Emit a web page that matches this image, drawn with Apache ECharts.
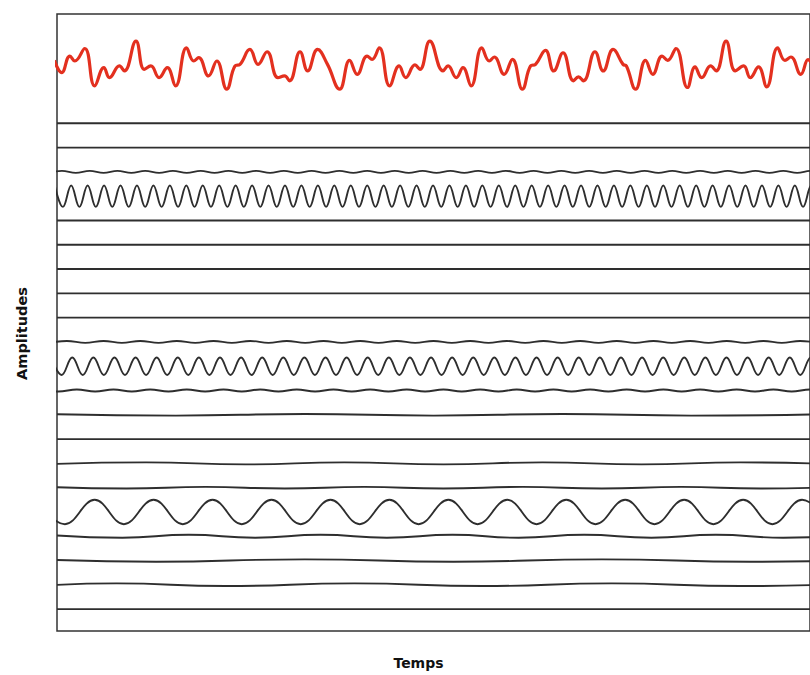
<!DOCTYPE html>
<html><head><meta charset="utf-8">
<script src="https://cdn.jsdelivr.net/npm/echarts@6/dist/echarts.min.js"></script>
<style>html,body{margin:0;padding:0;background:#fff}#c{width:810px;height:675px}</style>
</head><body><div id="c"></div>
<script>
// ---- composite signal (red): local extrema ----
const redT = [-2.7, 4.7, 13, 18, 28, 38, 47.3, 53, 63, 68, 79.7, 88, 94.7, 103, 111.3, 119.7, 130.7, 138, 143, 153, 161.3, 171.3, 179.7, 184.7, 194.7, 203, 212, 223, 229.7, 234.7, 245.3, 253, 263, 273, 285.3, 295.3, 303, 313, 318, 325.3, 335.7, 345.3, 352, 361.3, 366.3, 376.3, 389.7, 394.7, 403, 409.7, 418, 428.7, 436.3, 441.3, 451.3, 459.7, 469.7, 478, 483, 493, 501.3, 510.7, 521.3, 526.3, 531.3, 543, 551.3, 561.3, 571.3, 574.7, 584, 594, 601.3, 610.7, 616.3, 624.7, 636.3, 644, 650.7, 659.7, 665.3, 675.3, 684.7, 693, 699.7, 708, 716.3, 727.3, 734.7, 740.7, 750.7, 758, 766];
const redV = [4.8, -7.5, 9.2, 4.2, 16.8, -20.8, -2.5, -12.5, -0.8, -5.8, 24.2, -4.2, -0.8, -12.5, -2.5, -20.8, 17.5, 4.2, 7.5, -10.8, 4.2, -24.2, -0.8, 0.8, 15.8, 0.8, 13.5, -12.5, -10.8, -15.8, 13.5, -5.8, 15.8, 0.8, -24.2, 4.8, -9.2, 9.2, 5.8, 17.5, -20.8, -0.8, -12.5, 0.2, -4.2, 24.2, -5.8, -0.8, -12.5, -2.5, -20.8, 17.5, 4.2, 8.2, -9.2, 5.8, -24.2, -0.8, 0.8, 14.8, -5.8, 12.5, -15.8, -11.8, -15.8, 13.5, -5.8, 15.8, 0.8, -0.8, -24.2, 4.8, -9.2, 9.2, 4.8, 16.8, -22.5, -1.8, -12.5, -0.8, -5.8, 24.2, -5.8, -0.8, -12.5, -1.8, -21.8, 17.5, 4.8, 8.2, -9.2, 5.5, -10];

// ---- main component A (high frequency) ----
const compAPeaks = [-2.3, 14.3, 30.9, 47.5, 64.1, 80.7, 97.3, 113.9, 130.5, 147.1, 163.7, 180.3, 196.9, 213.5, 230.1, 246.7, 263.3, 279.9, 296.5, 313.1, 329.7, 346.3, 362.9, 379.5, 396.1, 412.7, 429.3, 445.9, 462.5, 479.1, 495.7, 512.3, 528.9, 545.5, 562.1, 578.7, 595.3, 611.9, 628.5, 645.1, 661.7, 678.3, 694.9, 711.5, 728.1, 744.7, 761.3];
const compATroughs = [6.0, 22.6, 39.2, 55.8, 72.4, 89.0, 105.6, 122.2, 138.8, 155.4, 172.0, 188.6, 205.2, 221.8, 238.4, 255.0, 271.6, 288.2, 304.8, 321.4, 338.0, 354.6, 371.2, 387.8, 404.4, 421.0, 437.6, 454.2, 470.8, 487.4, 504.0, 520.6, 537.2, 553.8, 570.4, 587.0, 603.6, 620.2, 636.8, 653.4, 670.0, 686.6, 703.2, 719.8, 736.4, 753.0, 769.6];
const compAAmp = 10.8;

// ---- main component B (medium frequency) ----
const compBPeaks = [-6.0, 15.4, 36.7, 58.0, 79.3, 100.6, 121.9, 143.2, 164.5, 185.8, 207.1, 228.4, 249.7, 271.0, 292.3, 313.6, 334.9, 356.2, 377.5, 398.8, 420.1, 441.4, 462.7, 484.0, 505.3, 526.6, 547.9, 569.2, 590.5, 611.8, 633.1, 654.4, 675.7, 697.0, 718.3, 739.6, 760.9];
const compBTroughs = [4.7, 26.0, 47.3, 68.6, 89.9, 111.2, 132.5, 153.8, 175.1, 196.4, 217.7, 239.0, 260.3, 281.6, 302.9, 324.2, 345.5, 366.8, 388.1, 409.4, 430.7, 452.0, 473.3, 494.6, 515.9, 537.2, 558.5, 579.8, 601.1, 622.4, 643.7, 665.0, 686.3, 707.6, 728.9, 750.2, 771.5];
const compBAmp = 8.8;

// ---- main component C (low frequency) ----
const compCPeaks = [-21.5, 38, 97.5, 157, 216.5, 276, 335.5, 395, 454.5, 514, 573.5, 633, 692.5, 752];
const compCTroughs = [8, 67.5, 127, 186.5, 246, 305.5, 365, 424.5, 484, 543.5, 603, 662.5, 722, 781.5];
const compCAmp = 12.3;

// ---- faint rippled components ----
const rip2Peaks = [5, 33, 61, 89, 117, 145, 173, 201, 229, 257, 285, 313, 341, 369, 397, 425, 453, 481, 509, 537, 565, 593, 621, 649, 677, 705, 733, 761];
const rip2Troughs = [-9, 19, 47, 75, 103, 131, 159, 187, 215, 243, 271, 299, 327, 355, 383, 411, 439, 467, 495, 523, 551, 579, 607, 635, 663, 691, 719, 747, 775];
const rip2Amp = 1.0;
const rip9Peaks = [10, 47, 84, 121, 158, 195, 232, 269, 306, 343, 380, 417, 454, 491, 528, 565, 602, 639, 676, 713, 750];
const rip9Troughs = [-8.5, 28.5, 65.5, 102.5, 139.5, 176.5, 213.5, 250.5, 287.5, 324.5, 361.5, 398.5, 435.5, 472.5, 509.5, 546.5, 583.5, 620.5, 657.5, 694.5, 731.5, 768.5];
const rip9Amp = 1.0;
const rip11Peaks = [-17, 20, 57, 94, 131, 168, 205, 242, 279, 316, 353, 390, 427, 464, 501, 538, 575, 612, 649, 686, 723, 760];
const rip11Troughs = [1.5, 38.5, 75.5, 112.5, 149.5, 186.5, 223.5, 260.5, 297.5, 334.5, 371.5, 408.5, 445.5, 482.5, 519.5, 556.5, 593.5, 630.5, 667.5, 704.5, 741.5, 778.5];
const rip11Amp = 1.0;

// ---- weak slow components (row index from top : [t, value]) ----
const weakRows = {
  12: [[0, 0.5], [120, -0.8], [250, 0.8], [380, -0.8], [510, 0.8], [640, -0.8], [770, 0.5]],
  14: [[0, -0.5], [90, 1], [190, -1], [290, 1], [390, -1], [490, 1], [590, -1], [690, 1], [790, -1]],
  15: [[0, 0.5], [70, -0.8], [150, 0.8], [230, -0.8], [310, 0.8], [390, -0.8], [470, 0.8], [550, -0.8], [630, 0.8], [710, -0.8], [790, 0.8]],
  17: [[0, 0.8], [66, -1.5], [133, 1.5], [200, -1.5], [266, 1.5], [333, -1.5], [399, 1.5], [466, -1.5], [532, 1.5], [600, -1.5], [665, 1.5], [733, -1.5], [800, 1.5]],
  18: [[0, 0.5], [100, -1.2], [250, 1.2], [400, -1.2], [550, 1.2], [700, -1.2], [800, 0]],
  19: [[0, 0], [60, 1.5], [170, -1.2], [300, 1.5], [430, -1.2], [560, 1.5], [690, -1.2], [800, 1]]
};
const rowCount = 21;
const bigRows = {3: [compAPeaks, compATroughs, compAAmp], 10: [compBPeaks, compBTroughs, compBAmp], 16: [compCPeaks, compCTroughs, compCAmp]};
const rippleRows = {2: [rip2Peaks, rip2Troughs, rip2Amp], 9: [rip9Peaks, rip9Troughs, rip9Amp], 11: [rip11Peaks, rip11Troughs, rip11Amp]};

// layout constants (axis units)
const topRowBase = 511, rowStep = 24.45, redBase = 569.5;

function merge(peaks, troughs, amp) {
  const pts = peaks.map(t => [t, amp]).concat(troughs.map(t => [t, -amp]));
  pts.sort((a, b) => a[0] - b[0]);
  return pts;
}

const series = [];
series.push({
  type: 'line', data: redT.map((t, i) => [t, redBase + redV[i]]),
  smooth: 0.45, symbol: 'none', lineStyle: {color: '#e3301f', width: 3.2}, z: 5
});
for (let r = 0; r < rowCount; r++) {
  const base = topRowBase - r * rowStep;
  let pts;
  if (bigRows[r]) pts = merge(...bigRows[r]);
  else if (rippleRows[r]) pts = merge(...rippleRows[r]);
  else if (weakRows[r]) pts = weakRows[r];
  else pts = [[0, 0], [800, 0]];
  series.push({
    type: 'line', data: pts.map(p => [p[0], base + p[1]]),
    smooth: (bigRows[r] || rippleRows[r]) ? 0.4 : 0.5, symbol: 'none',
    lineStyle: {color: '#2e2e2e', width: 1.9}
  });
}

const chart = echarts.init(document.getElementById('c'), null, {renderer: 'svg'});
chart.setOption({
  animation: false,
  backgroundColor: '#fff',
  grid: {left: 57, top: 14, width: 760, height: 621, show: true, borderColor: '#333', borderWidth: 1.5},
  xAxis: {
    type: 'value', min: 0, max: 760,
    axisLine: {show: false}, axisTick: {show: false}, axisLabel: {show: false}, splitLine: {show: false},
    name: 'Temps', nameLocation: 'middle', nameGap: 25,
    nameTextStyle: {fontFamily: 'DejaVu Sans', fontWeight: 'bold', fontSize: 14, color: '#111', padding: [0, 30, 0, 0]}
  },
  yAxis: {
    type: 'value', min: 0, max: 621,
    axisLine: {show: false}, axisTick: {show: false}, axisLabel: {show: false}, splitLine: {show: false},
    name: 'Amplitudes', nameLocation: 'middle', nameGap: 28,
    nameTextStyle: {fontFamily: 'DejaVu Sans', fontWeight: 'bold', fontSize: 14.5, color: '#111', padding: [0, 22, 0, 0]}
  },
  series: series
});
</script></body></html>
